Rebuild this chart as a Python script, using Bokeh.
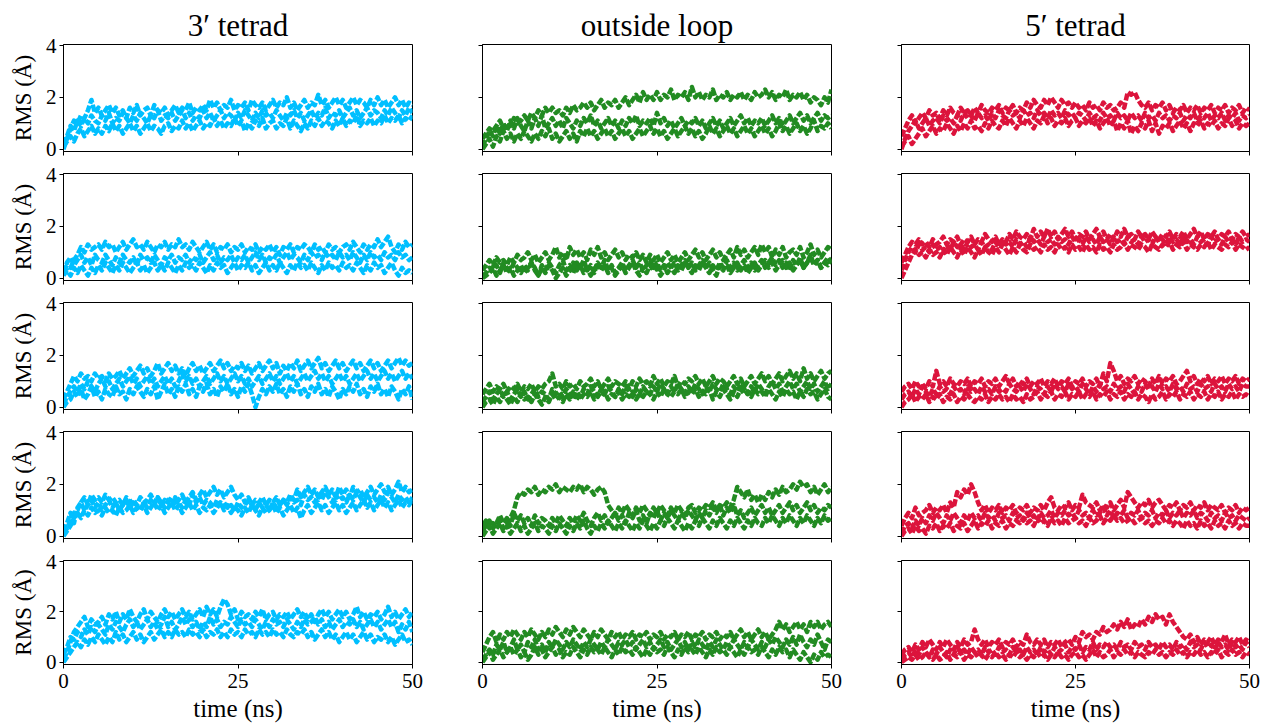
import numpy as np
from bokeh.plotting import figure
from bokeh.layouts import column, row
from bokeh.models import FixedTicker, Range1d
from bokeh.embed import file_html
from bokeh.resources import INLINE

# RMS deviation (Å) per residue, sampled every 0.5 ns over the 50 ns runs.
# Five simulations (rows) x three structural regions (columns).
column_titles = ["3\u2032 tetrad", "outside loop", "5\u2032 tetrad"]
column_colors = ["#00BFFF", "#228B22", "#DC143C"]
x_ticks = [0, 25, 50]
y_ticks = [0, 2, 4]

tet3_run1 = [
    [0.0,0.4,0.8,1.1,1.0,1.3,1.2,1.5,1.9,1.4, 1.6,1.3,1.5,1.7,1.4,1.6,1.3,1.5,1.2,1.6,
     1.4,1.7,1.3,1.5,1.6,1.3,1.7,1.5,1.4,1.6, 1.3,1.5,1.7,1.4,1.6,1.5,1.8,1.4,1.6,1.5,
     1.7,1.5,1.9,1.6,1.8,1.5,1.7,1.6,1.9,1.5, 1.7,1.6,1.8,1.5,1.9,1.7,1.6,1.8,1.5,1.7,
     1.9,1.6,1.8,1.7,2.0,1.6,1.8,1.5,1.7,1.9, 1.6,1.8,1.7,2.1,1.7,1.9,1.6,1.8,2.0,1.7,
     1.9,1.6,1.8,2.0,1.7,1.9,1.8,1.6,1.9,1.7, 2.0,1.7,1.9,1.6,1.8,2.0,1.7,1.9,1.6,1.8, 1.7],
    [0.1,0.3,0.5,0.3,0.6,0.8,0.5,0.7,0.9,0.6, 0.8,0.6,0.9,0.7,1.0,0.7,0.9,0.6,0.8,1.0,
     0.7,0.9,0.6,0.8,1.0,0.7,0.9,0.8,0.6,0.9, 1.0,0.7,0.9,0.8,1.1,0.8,1.0,0.7,0.9,1.1,
     0.8,1.0,0.9,1.2,0.9,1.1,0.8,1.0,0.9,1.2, 0.9,1.1,0.7,1.0,0.8,1.1,0.9,1.2,0.8,1.0,
     1.1,0.8,1.0,0.9,1.2,0.8,1.1,0.9,0.7,1.0, 0.8,1.1,0.9,1.2,0.9,1.1,1.0,0.8,1.1,0.9,
     1.2,0.9,1.1,1.0,1.3,0.9,1.1,1.0,1.2,0.9, 1.1,1.0,1.3,1.0,1.2,1.1,1.3,1.0,1.2,1.1, 1.3],
    [0.2,0.5,0.9,0.7,1.1,0.9,1.2,1.0,1.3,1.1, 1.0,1.3,1.1,1.4,1.0,1.2,1.1,1.4,1.2,1.0,
     1.3,1.1,1.4,1.2,1.0,1.3,1.2,1.5,1.1,1.3, 1.2,1.4,1.1,1.3,1.5,1.2,1.4,1.1,1.3,1.2,
     1.5,1.2,1.4,1.1,1.3,1.5,1.2,1.4,1.3,1.1, 1.4,1.2,1.5,1.3,1.1,1.4,1.2,1.5,1.3,1.4,
     1.2,1.5,1.3,1.1,1.4,1.3,1.5,1.2,1.4,1.1, 1.3,1.5,1.2,1.4,1.3,1.6,1.2,1.4,1.3,1.5,
     1.2,1.4,1.6,1.3,1.5,1.2,1.4,1.6,1.3,1.5, 1.4,1.2,1.5,1.3,1.6,1.4,1.2,1.5,1.3,1.6, 1.4],
]
tet3_run2 = [
    [0.3,0.5,0.4,0.7,0.9,1.2,1.0,1.3,1.1,1.2, 1.3,1.1,1.4,1.2,1.3,1.0,1.2,1.4,1.1,1.3,
     1.5,1.2,1.3,1.1,1.4,1.2,1.0,1.3,1.2,1.4, 1.1,1.3,1.2,1.5,1.2,1.3,1.1,1.4,1.2,1.0,
     1.2,1.4,1.1,1.3,1.0,1.2,1.1,1.3,1.0,1.2, 1.1,1.3,1.0,1.2,1.1,1.3,1.0,1.2,1.1,1.3,
     1.0,1.2,0.9,1.2,1.1,1.3,1.0,1.2,1.1,1.3, 1.2,1.0,1.3,1.1,1.2,1.0,1.3,1.1,1.2,1.0,
     1.2,1.3,1.1,1.4,1.2,1.0,1.3,1.1,1.3,1.2, 1.5,1.2,1.4,1.6,1.2,1.0,1.3,1.1,1.4,1.2, 1.3],
    [0.1,0.3,0.1,0.4,0.2,0.5,0.3,0.1,0.4,0.2, 0.5,0.3,0.6,0.4,0.2,0.5,0.3,0.6,0.4,0.2,
     0.4,0.6,0.3,0.5,0.2,0.4,0.6,0.3,0.5,0.3, 0.6,0.4,0.2,0.5,0.3,0.6,0.4,0.5,0.3,0.6,
     0.4,0.2,0.5,0.3,0.6,0.4,0.5,0.2,0.4,0.6, 0.3,0.5,0.4,0.6,0.3,0.5,0.2,0.4,0.6,0.3,
     0.5,0.3,0.6,0.4,0.2,0.5,0.3,0.6,0.4,0.5, 0.3,0.6,0.4,0.2,0.5,0.3,0.6,0.4,0.5,0.3,
     0.6,0.4,0.5,0.3,0.6,0.4,0.2,0.5,0.3,0.6, 0.4,0.5,0.2,0.4,0.6,0.3,0.1,0.4,0.2,0.3, 0.2],
    [0.2,0.6,0.8,0.5,0.7,0.9,0.6,0.8,0.5,0.9, 0.7,0.6,0.9,0.7,0.5,0.8,0.6,0.9,0.7,0.6,
     0.8,0.5,0.9,0.7,0.8,0.6,0.9,0.7,0.5,0.8, 0.7,0.9,0.6,0.8,0.7,0.9,0.6,0.8,0.7,0.9,
     0.6,0.8,1.0,0.7,0.9,0.6,0.8,0.7,0.9,0.6, 0.8,0.7,0.9,0.6,0.8,1.0,0.7,0.9,0.6,0.8,
     0.7,0.9,0.6,0.8,1.0,0.7,0.9,0.8,0.6,0.9, 0.7,1.0,0.8,0.9,0.7,1.0,0.8,0.9,0.7,1.0,
     0.8,0.9,0.7,1.0,0.8,0.6,0.9,0.7,1.0,0.8, 0.9,0.7,1.0,0.8,0.9,0.7,1.0,0.8,0.9,0.7, 0.8],
]
tet3_run3 = [
    [0.3,0.6,0.9,1.2,1.0,1.3,1.1,1.2,1.0,1.3, 1.1,1.2,1.0,1.3,1.1,1.2,1.4,1.1,1.3,1.5,
     1.2,1.4,1.6,1.3,1.5,1.2,1.4,1.7,1.3,1.5, 1.7,1.4,1.6,1.3,1.5,1.2,1.5,1.7,1.4,1.6,
     1.3,1.5,1.7,1.4,1.6,1.8,1.5,1.7,1.4,1.6, 1.5,1.7,1.4,1.6,1.3,1.5,1.7,1.4,1.6,1.8,
     1.5,1.7,1.3,1.6,1.4,1.7,1.5,1.8,1.4,1.6, 1.8,1.5,1.7,1.9,1.5,1.7,1.4,1.6,1.8,1.5,
     1.7,1.4,1.6,1.8,1.5,1.7,1.4,1.6,1.8,1.5, 1.7,1.4,1.6,1.8,1.5,1.7,1.9,1.6,1.8,1.6, 1.7],
    [0.1,0.4,0.6,0.8,0.6,0.9,0.7,1.0,0.8,0.6, 0.9,1.1,0.8,1.0,0.7,0.9,1.1,0.8,1.0,1.2,
     0.9,1.1,0.8,1.0,1.2,0.9,1.1,0.8,1.0,1.2, 0.9,1.1,0.8,1.0,1.3,1.0,1.2,0.9,1.1,0.8,
     1.0,1.2,0.9,1.1,1.3,1.0,1.2,0.9,1.1,1.3, 1.0,1.2,0.9,1.1,0.8,1.0,1.2,0.9,1.1,1.3,
     1.0,1.2,0.9,1.1,1.3,1.0,1.2,0.9,1.1,1.3, 1.0,1.2,1.4,1.1,1.3,1.0,1.2,0.9,1.1,1.3,
     1.0,1.2,0.9,1.1,1.3,1.0,1.2,1.4,1.1,1.3, 1.0,1.2,1.4,1.1,1.3,1.0,1.2,1.4,1.1,1.3, 1.1],
    [0.0,0.2,0.3,0.6,0.4,0.7,0.3,0.5,0.8,0.4, 0.6,0.3,0.7,0.5,0.4,0.8,0.5,0.6,0.3,0.7,
     0.5,0.8,0.6,0.4,0.7,0.5,0.8,0.3,0.6,0.9, 0.5,0.7,0.4,0.8,0.6,0.9,0.5,0.7,0.4,0.8,
     0.6,0.9,0.5,0.7,0.4,0.8,0.6,0.9,0.5,0.7, 0.4,0.8,0.6,0.9,0.5,0.0,0.4,0.7,0.5,0.8,
     0.6,0.9,0.5,0.7,0.4,0.8,0.6,0.9,0.5,0.7, 0.4,0.8,0.6,0.9,0.5,0.7,0.4,0.8,0.6,0.3,
     0.7,0.5,0.8,0.6,0.9,0.5,0.7,0.4,0.8,0.6, 0.9,0.5,0.7,0.4,0.8,0.6,0.3,0.7,0.5,0.8, 0.3],
]
tet3_run4 = [
    [0.1,0.3,0.6,0.9,1.0,1.3,1.5,1.2,1.6,1.4, 1.5,1.3,1.6,1.4,1.5,1.3,1.4,1.2,1.5,1.3,
     1.4,1.2,1.5,1.3,1.4,1.6,1.3,1.5,1.2,1.4, 1.3,1.5,1.2,1.4,1.6,1.3,1.5,1.7,1.4,1.6,
     1.8,1.5,1.7,1.9,1.6,1.8,1.5,1.7,1.9,1.6, 1.4,1.6,1.3,1.5,1.2,1.4,1.3,1.5,1.2,1.4,
     1.3,1.5,1.2,1.4,1.3,1.6,1.4,1.8,1.5,1.7, 1.9,1.6,1.8,1.5,1.7,1.9,1.6,1.8,1.5,1.9,
     1.6,1.8,1.5,1.9,1.7,1.8,1.5,1.7,1.9,1.6, 1.8,2.0,1.7,1.9,1.6,1.8,2.1,1.7,1.9,1.7, 1.8],
    [0.0,0.2,0.4,0.7,0.9,0.7,1.0,0.8,1.1,0.9, 1.0,0.8,1.1,0.9,1.0,0.8,1.1,0.9,1.0,1.2,
     0.9,1.1,1.0,1.2,0.9,1.1,1.3,1.0,1.2,0.9, 1.1,1.3,1.0,1.2,0.9,1.1,1.3,1.0,1.2,0.9,
     1.1,1.0,1.2,0.9,1.1,1.3,1.0,1.2,0.9,1.1, 1.0,0.8,1.1,0.9,1.2,1.0,0.8,1.1,0.9,1.0,
     1.2,0.9,1.1,0.8,1.0,1.2,0.9,1.1,0.7,1.0, 1.2,0.9,1.1,1.3,1.0,1.2,0.9,1.1,1.3,1.0,
     1.2,0.9,1.1,1.3,1.0,1.2,1.4,1.1,1.3,1.0, 1.2,1.4,1.1,1.3,1.0,1.2,1.4,1.1,1.3,1.2, 1.4],
    [0.2,0.5,0.9,0.5,1.1,1.3,1.0,1.2,1.4,1.1, 1.3,1.0,1.2,1.4,1.1,1.3,1.0,1.2,1.4,1.1,
     1.3,1.2,1.0,1.3,1.1,1.4,1.2,1.5,1.3,1.1, 1.4,1.2,1.5,1.3,1.1,1.4,1.2,1.6,1.3,1.5,
     1.2,1.4,1.3,1.1,1.4,1.2,1.3,1.1,1.2,1.0, 1.3,1.1,1.2,1.4,1.2,1.0,1.3,1.1,1.2,1.0,
     1.3,1.1,1.2,1.4,1.2,1.5,1.3,1.4,1.2,1.6, 1.4,1.5,1.3,1.6,1.4,1.7,1.5,1.3,1.6,1.4,
     1.5,1.3,1.6,1.4,1.7,1.5,1.3,1.6,1.4,1.5, 1.3,1.6,1.4,1.7,1.5,1.3,1.6,1.4,1.5,1.3, 1.5],
]
tet3_run5 = [
    [0.1,0.4,0.8,1.2,1.4,1.6,1.8,1.4,1.7,1.5, 1.6,1.8,1.5,1.9,1.7,2.0,1.6,1.9,1.7,2.1,
     1.8,1.6,1.9,2.1,1.7,2.0,1.8,1.6,1.9,2.1, 1.8,2.0,1.7,1.9,2.1,1.8,2.0,1.7,1.9,2.1,
     1.8,2.2,1.9,2.1,1.8,2.2,2.5,2.3,1.9,2.1, 1.7,2.0,1.8,1.9,1.7,2.0,1.8,2.1,1.7,1.9,
     2.0,1.7,1.9,1.8,2.0,1.7,1.9,2.1,1.8,2.0, 1.7,1.9,1.6,1.9,2.1,1.8,2.0,1.7,1.9,2.1,
     1.8,2.0,1.7,1.9,2.2,1.8,2.0,1.7,1.9,1.8, 2.0,1.7,1.9,2.2,1.8,2.0,1.7,1.9,2.1,1.8, 2.0],
    [0.0,0.2,0.4,0.6,0.8,0.6,0.9,0.7,1.0,0.8, 1.1,0.9,0.7,1.0,0.8,1.2,0.9,1.1,0.8,1.0,
     1.2,0.9,1.1,0.8,1.0,1.2,0.9,1.1,1.3,1.0, 1.2,1.0,1.3,1.1,1.2,1.0,1.3,1.1,1.2,1.0,
     1.3,1.0,1.2,1.1,1.3,1.0,1.2,1.0,1.3,1.1, 1.2,1.0,1.3,1.1,1.2,1.0,1.3,1.1,1.2,1.0,
     1.3,1.1,1.2,1.0,1.3,1.1,1.0,1.2,1.1,1.3, 1.0,1.2,0.9,1.1,1.3,1.0,1.2,0.9,1.1,0.8,
     1.0,1.2,0.9,1.1,0.8,1.0,1.2,0.9,1.1,0.8, 1.0,0.9,1.1,0.8,1.0,0.7,0.9,1.1,0.8,0.9, 0.7],
    [0.3,0.6,1.0,0.9,1.2,1.0,1.3,1.1,1.4,1.2, 1.5,1.3,1.1,1.5,1.3,1.6,1.4,1.2,1.5,1.7,
     1.4,1.6,1.3,1.5,1.7,1.4,1.6,1.3,1.5,1.8, 1.4,1.6,1.3,1.5,1.8,1.5,1.7,1.4,1.6,1.3,
     1.6,1.4,1.8,1.5,1.7,1.4,1.6,1.5,1.8,1.6, 1.4,1.7,1.5,1.6,1.4,1.7,1.5,1.3,1.6,1.4,
     1.7,1.5,1.6,1.4,1.7,1.5,1.3,1.6,1.4,1.7, 1.5,1.6,1.8,1.5,1.7,1.4,1.6,1.3,1.5,1.7,
     1.4,1.6,1.5,1.7,1.4,1.6,1.3,1.5,1.7,1.4, 1.6,1.3,1.5,1.7,1.4,1.6,1.2,1.5,1.3,1.6, 1.2],
]

loop_run1 = [
    [0.4,0.6,0.8,0.7,0.9,1.1,0.8,1.0,0.9,1.2, 1.0,1.1,1.3,1.1,1.4,1.2,1.5,1.3,1.6,1.4,
     1.6,1.4,1.5,1.3,1.6,1.4,1.7,1.5,1.6,1.8, 1.6,1.8,1.5,1.7,1.9,1.6,1.8,1.7,1.9,1.6,
     1.8,2.0,1.7,1.9,2.1,1.8,2.2,1.9,2.1,1.9, 2.2,1.9,2.1,2.0,2.3,1.9,2.1,2.0,2.2,1.9,
     2.4,2.0,2.2,1.9,2.1,2.0,2.3,1.9,2.1,2.0, 2.2,1.9,2.1,2.0,2.2,1.9,2.1,1.9,2.2,2.0,
     2.1,2.3,2.0,2.2,1.9,2.1,2.0,2.3,1.9,2.1, 2.0,2.2,1.9,2.1,1.8,2.0,1.9,1.7,2.0,1.8, 2.3],
    [0.1,0.4,0.7,0.5,0.9,0.6,1.0,0.7,1.1,0.8, 1.2,0.9,0.7,1.1,0.8,1.2,0.9,1.3,0.8,1.0,
     1.2,0.9,1.1,0.8,1.2,1.0,0.8,1.1,0.9,1.2, 1.0,1.3,0.9,1.1,0.8,1.0,1.2,0.9,1.1,0.8,
     1.1,0.9,1.2,1.0,1.3,0.9,1.1,1.0,1.2,0.9, 1.4,1.0,1.2,0.9,1.1,0.8,1.0,1.2,0.9,1.1,
     1.0,1.2,0.9,1.1,0.8,1.0,1.2,0.9,1.1,0.8, 1.0,1.2,0.9,1.1,1.3,1.0,1.2,0.9,1.1,1.0,
     1.2,0.9,1.1,1.3,1.0,1.2,0.9,1.1,1.3,1.0, 1.2,1.4,1.1,1.3,1.0,1.2,1.4,1.1,1.3,1.2, 1.3],
    [0.0,0.2,0.4,0.1,0.5,0.3,0.7,0.4,0.6,0.3, 0.6,0.4,0.7,0.5,0.3,0.6,0.4,0.7,0.5,0.8,
     0.4,0.6,0.3,0.5,0.7,0.4,0.6,0.3,0.7,0.5, 0.8,0.5,0.7,0.4,0.6,0.8,0.5,0.7,0.4,0.6,
     0.8,0.5,0.7,0.4,0.6,0.8,0.5,0.7,0.9,0.6, 0.8,0.5,0.7,0.4,0.6,0.8,0.5,0.7,0.9,0.6,
     0.8,0.5,0.7,0.4,0.6,0.9,0.6,0.8,0.5,0.7, 0.9,0.6,0.8,0.5,0.7,0.9,0.6,0.8,0.5,0.7,
     0.9,0.6,0.8,0.5,0.7,1.0,0.7,0.9,0.6,0.8, 1.0,0.7,0.9,0.6,0.8,1.1,0.7,0.9,0.8,1.0, 0.8],
]
loop_run2 = [
    [0.3,0.5,0.7,0.5,0.8,0.6,0.7,0.5,0.8,0.6, 0.9,0.7,0.8,1.0,0.7,0.9,0.6,0.8,1.0,0.7,
     0.9,1.2,0.8,1.0,0.7,1.2,0.9,1.1,0.8,1.0, 0.7,1.1,0.9,1.2,0.8,1.0,0.7,0.9,1.1,0.8,
     1.0,0.7,0.9,0.8,1.0,0.7,0.9,0.6,0.9,0.7, 0.9,0.6,0.8,1.0,0.7,0.9,0.6,0.8,1.0,0.7,
     0.9,1.1,0.8,1.0,0.7,0.9,1.1,0.8,1.0,0.7, 0.9,1.1,0.8,1.2,0.9,1.1,0.8,1.0,1.2,0.9,
     1.3,1.0,1.2,0.8,1.1,0.9,1.2,0.8,1.0,1.1, 0.9,1.2,0.8,1.0,1.3,0.9,1.1,0.8,1.0,1.2, 1.1],
    [0.1,0.2,0.4,0.3,0.5,0.2,0.6,0.4,0.3,0.6, 0.4,0.2,0.5,0.3,0.6,0.4,0.1,0.5,0.3,0.6,
     0.4,0.2,0.5,0.7,0.3,0.5,0.2,0.6,0.4,0.7, 0.3,0.5,0.2,0.6,0.4,0.7,0.3,0.5,0.2,0.4,
     0.6,0.3,0.5,0.7,0.4,0.6,0.3,0.5,0.7,0.4, 0.6,0.3,0.5,0.2,0.4,0.6,0.3,0.5,0.7,0.4,
     0.6,0.3,0.5,0.7,0.4,0.6,0.3,0.1,0.5,0.3, 0.7,0.4,0.6,0.3,0.5,0.7,0.4,0.6,0.3,0.5,
     0.7,0.4,0.6,0.8,0.5,0.7,0.4,0.6,0.3,0.7, 0.5,0.8,0.4,0.6,0.9,0.5,0.7,0.4,0.6,0.8, 0.6],
    [0.0,0.1,0.2,0.4,0.1,0.3,0.5,0.2,0.4,0.1, 0.3,0.5,0.2,0.4,0.6,0.3,0.1,0.4,0.2,0.5,
     0.3,0.0,0.2,0.4,0.1,0.3,0.6,0.3,0.5,0.2, 0.4,0.1,0.3,0.6,0.3,0.5,0.2,0.4,0.1,0.3,
     0.5,0.2,0.4,0.6,0.3,0.1,0.4,0.2,0.5,0.3, 0.4,0.1,0.3,0.6,0.4,0.2,0.5,0.3,0.6,0.4,
     0.2,0.5,0.3,0.6,0.4,0.2,0.5,0.3,0.6,0.4, 0.5,0.2,0.4,0.6,0.3,0.5,0.2,0.4,0.6,0.3,
     0.5,0.7,0.4,0.6,0.3,0.5,0.7,0.4,0.6,0.3, 0.5,0.7,0.4,0.6,0.8,0.5,0.7,0.4,0.6,0.5, 0.7],
]
loop_run3 = [
    [0.5,0.7,0.9,0.6,0.8,0.7,0.9,0.6,0.8,0.7, 0.9,0.6,0.8,0.7,0.9,0.6,0.8,0.7,0.9,1.0,
     1.3,0.8,0.9,0.7,1.0,0.8,0.9,0.7,1.0,0.8, 0.9,1.1,0.8,1.0,0.7,0.9,1.1,0.8,1.0,0.9,
     0.8,1.0,0.7,1.0,0.8,1.1,0.9,1.0,0.8,1.2, 0.9,1.1,0.8,1.0,0.9,1.2,0.8,1.0,0.9,1.1,
     1.0,1.2,0.9,1.1,0.8,1.0,1.2,0.9,1.1,1.0, 0.8,1.0,1.2,0.9,1.1,0.8,1.0,1.2,0.9,1.1,
     1.3,1.0,1.2,0.9,1.1,1.3,1.0,1.2,1.4,1.1, 1.3,1.0,1.5,1.1,1.3,1.0,1.2,1.4,1.1,1.3, 1.4],
    [0.2,0.4,0.6,0.3,0.5,0.7,0.4,0.6,0.3,0.5, 0.7,0.4,0.6,0.3,0.5,0.7,0.4,0.6,0.5,0.3,
     0.7,0.5,0.6,0.4,0.7,0.5,0.3,0.6,0.4,0.7, 0.5,0.8,0.6,0.4,0.7,0.5,0.8,0.6,0.4,0.7,
     0.5,0.8,0.6,0.4,0.7,0.5,0.8,0.6,0.5,0.8, 0.6,0.9,0.7,0.5,0.8,0.6,0.9,0.7,0.5,0.8,
     0.6,0.9,0.7,0.5,0.8,0.6,0.9,0.7,0.6,0.9, 0.7,0.5,0.8,0.6,0.9,0.7,0.5,0.8,0.6,0.9,
     0.7,0.5,0.8,1.0,0.7,0.9,0.6,0.8,1.0,0.7, 0.9,0.6,0.8,1.0,0.7,0.9,0.6,0.8,1.0,0.7, 0.9],
    [0.0,0.2,0.3,0.1,0.4,0.2,0.5,0.3,0.1,0.4, 0.2,0.5,0.3,0.4,0.2,0.5,0.3,0.1,0.4,0.2,
     0.5,0.3,0.4,0.2,0.5,0.3,0.6,0.4,0.3,0.5, 0.4,0.6,0.3,0.5,0.4,0.6,0.3,0.5,0.4,0.6,
     0.3,0.5,0.4,0.6,0.3,0.5,0.4,0.6,0.5,0.3, 0.6,0.4,0.7,0.5,0.4,0.6,0.5,0.7,0.4,0.6,
     0.5,0.7,0.4,0.6,0.5,0.7,0.3,0.6,0.4,0.7, 0.5,0.3,0.6,0.4,0.7,0.5,0.6,0.4,0.7,0.5,
     0.6,0.4,0.7,0.5,0.3,0.6,0.4,0.7,0.5,0.6, 0.3,0.6,0.4,0.7,0.5,0.6,0.3,0.5,0.7,0.4, 0.3],
]
loop_run4 = [
    [0.4,0.6,0.3,0.5,0.4,0.6,0.3,0.5,0.7,1.0, 1.5,1.7,1.6,1.8,1.7,1.9,1.6,1.8,1.7,1.9,
     1.8,2.0,1.7,1.9,1.8,1.7,1.9,1.8,2.0,1.7, 1.9,1.8,1.6,1.8,1.9,1.7,1.2,1.0,0.8,1.1,
     0.9,1.2,1.0,0.8,1.1,0.9,1.2,1.0,0.8,1.1, 0.9,1.2,1.0,0.8,1.1,0.9,1.2,1.0,0.8,1.1,
     1.2,0.9,1.1,1.0,1.2,1.1,1.3,1.0,1.2,1.1, 1.3,1.1,1.4,1.9,1.7,1.5,1.8,1.4,1.6,1.3,
     1.6,1.4,1.7,1.5,1.8,1.6,1.9,1.7,1.8,2.0, 1.8,2.1,1.9,2.0,1.7,1.9,1.6,1.8,2.0,1.7, 1.9],
    [0.2,0.4,0.6,0.3,0.5,0.8,0.5,0.7,0.4,0.9, 0.6,0.8,0.5,0.7,0.4,0.8,0.5,0.7,0.6,0.4,
     0.7,0.5,0.8,0.6,0.4,0.7,0.5,0.8,0.6,0.9, 0.6,0.4,0.7,0.9,0.6,0.8,0.5,0.7,0.9,0.6,
     0.8,0.5,0.9,0.7,1.0,0.6,0.8,0.5,0.9,0.7, 1.0,0.6,0.9,0.7,1.0,0.8,0.6,0.9,0.7,1.0,
     0.8,0.6,0.9,0.7,1.0,0.8,1.1,0.9,1.2,0.8, 1.1,0.9,1.2,0.8,1.0,0.7,0.9,1.1,0.8,1.0,
     1.2,0.9,1.1,0.8,1.0,1.2,0.9,1.1,1.3,1.0, 1.2,0.9,1.1,1.3,1.0,1.2,0.9,1.1,1.0,1.2, 1.1],
    [0.0,0.2,0.4,0.1,0.3,0.5,0.2,0.4,0.1,0.3, 0.5,0.2,0.4,0.1,0.3,0.5,0.2,0.4,0.3,0.1,
     0.4,0.2,0.5,0.3,0.1,0.4,0.2,0.5,0.3,0.6, 0.3,0.1,0.4,0.2,0.5,0.3,0.6,0.4,0.2,0.5,
     0.3,0.6,0.4,0.2,0.5,0.3,0.6,0.4,0.2,0.5, 0.3,0.6,0.4,0.7,0.5,0.3,0.6,0.4,0.2,0.5,
     0.3,0.6,0.4,0.7,0.5,0.3,0.6,0.4,0.7,0.5, 0.3,0.6,0.4,0.7,0.5,0.3,0.6,0.4,0.7,0.5,
     0.4,0.7,0.5,0.8,0.6,0.4,0.7,0.5,0.8,0.6, 0.4,0.7,0.5,0.8,0.6,0.4,0.7,0.5,0.8,0.6, 0.7],
]
loop_run5 = [
    [0.4,0.7,1.0,1.2,0.8,1.1,0.9,1.2,1.0,1.3, 1.1,0.9,1.2,1.0,1.3,1.1,0.9,1.2,1.0,1.3,
     1.1,1.4,1.2,1.0,1.3,1.1,1.4,1.2,1.0,1.3, 1.1,0.9,1.2,1.0,1.3,1.1,0.9,1.2,1.0,1.2,
     0.9,1.1,1.0,1.2,0.9,1.1,1.0,1.2,0.9,1.1, 1.0,1.2,0.9,1.1,1.0,1.2,0.9,1.1,1.0,1.2,
     0.9,1.1,1.0,1.2,0.9,1.1,1.0,1.2,0.9,1.1, 1.0,1.2,0.9,1.1,1.3,1.0,1.2,0.9,1.1,1.3,
     1.0,1.2,0.9,1.1,1.3,1.6,1.3,1.5,1.2,1.4, 1.6,1.3,1.5,1.2,1.6,1.4,1.6,1.3,1.5,1.6, 1.4],
    [0.1,0.3,0.5,0.3,0.7,0.5,0.8,0.4,0.6,0.9, 0.5,0.7,0.4,0.8,0.6,0.9,0.5,0.7,0.4,0.8,
     0.6,0.9,0.7,0.5,0.8,0.6,0.9,0.7,0.5,0.8, 0.6,0.9,0.7,0.5,0.8,0.6,0.9,0.7,0.5,0.8,
     0.7,0.9,0.6,0.8,0.5,0.7,0.9,0.6,0.8,0.5, 0.7,0.9,0.6,0.8,0.5,0.7,0.9,0.6,0.8,0.5,
     0.8,0.6,0.9,0.7,0.5,0.8,0.6,0.9,0.7,0.5, 0.8,0.6,0.9,0.7,0.5,0.8,0.6,0.9,0.7,0.5,
     0.8,0.6,0.9,0.7,1.0,0.8,0.6,0.9,0.7,1.0, 0.7,1.1,0.8,0.6,0.9,0.7,1.1,0.8,0.5,0.9, 0.8],
    [0.0,0.2,0.4,0.1,0.3,0.5,0.2,0.4,0.6,0.3, 0.5,0.2,0.4,0.1,0.3,0.6,0.3,0.5,0.2,0.4,
     0.6,0.3,0.5,0.2,0.4,0.3,0.6,0.4,0.2,0.5, 0.3,0.6,0.4,0.5,0.3,0.6,0.4,0.2,0.5,0.3,
     0.6,0.4,0.5,0.3,0.6,0.4,0.2,0.5,0.3,0.6, 0.4,0.5,0.3,0.6,0.4,0.2,0.5,0.3,0.6,0.4,
     0.5,0.3,0.6,0.4,0.2,0.5,0.3,0.6,0.4,0.5, 0.3,0.6,0.4,0.2,0.5,0.3,0.6,0.4,0.5,0.3,
     0.6,0.4,0.2,0.5,0.3,0.6,0.4,0.5,0.2,0.5, 0.3,0.1,0.4,0.2,0.0,0.3,0.1,0.4,0.2,0.3, 0.2],
]

tet5_run1 = [
    [0.5,0.8,1.1,1.3,1.0,1.2,1.4,1.2,1.5,1.3, 1.4,1.2,1.5,1.3,1.6,1.4,1.3,1.6,1.4,1.5,
     1.3,1.6,1.4,1.7,1.5,1.4,1.6,1.5,1.7,1.4, 1.6,1.5,1.7,1.4,1.6,1.5,1.8,1.6,1.9,1.7,
     1.6,1.9,1.7,2.0,1.8,1.6,1.9,1.7,1.8,1.6, 1.8,1.6,1.7,1.5,1.8,1.6,1.7,1.5,1.8,1.6,
     1.7,1.5,1.6,1.8,1.6,2.2,2.1,2.2,1.9,1.7, 1.6,1.8,1.5,1.7,1.6,1.8,1.5,1.7,1.4,1.6,
     1.5,1.7,1.4,1.6,1.5,1.7,1.4,1.6,1.5,1.7, 1.4,1.6,1.5,1.7,1.4,1.6,1.5,1.7,1.4,1.6, 1.5],
    [0.1,0.3,0.5,0.2,0.4,0.6,0.8,0.5,0.7,0.9, 0.6,0.8,0.7,1.0,0.8,0.6,0.9,0.7,1.0,0.8,
     1.1,0.8,0.9,0.7,1.0,0.8,1.1,0.9,0.8,1.1, 0.9,1.2,1.0,0.8,1.1,0.9,1.2,1.0,0.8,1.1,
     1.0,1.3,1.0,1.2,0.9,1.1,1.0,1.2,0.9,1.1, 1.2,0.9,1.1,1.0,1.2,0.9,1.1,0.8,1.0,1.2,
     0.9,1.1,0.7,1.0,0.8,1.1,0.6,0.9,0.7,1.0, 0.8,1.1,0.7,1.0,0.6,0.9,0.8,1.0,0.7,0.9,
     1.1,0.8,1.0,0.7,1.0,0.9,1.1,0.8,1.0,0.9, 1.1,0.8,1.0,0.9,1.2,0.9,1.1,0.8,1.0,0.9, 1.0],
    [0.0,0.4,0.7,0.9,1.1,0.8,1.0,1.2,0.9,1.1, 1.2,1.0,1.3,1.1,1.2,1.0,1.3,1.1,1.4,1.2,
     1.3,1.1,1.4,1.2,1.3,1.1,1.4,1.2,1.5,1.3, 1.2,1.5,1.3,1.4,1.2,1.5,1.3,1.4,1.2,1.5,
     1.3,1.4,1.2,1.5,1.3,1.4,1.2,1.5,1.3,1.4, 1.2,1.4,1.3,1.1,1.4,1.2,1.3,1.1,1.4,1.2,
     1.3,1.1,1.4,1.2,1.3,1.1,1.4,1.2,1.3,1.1, 1.4,1.2,1.3,1.1,1.4,1.2,1.3,1.1,1.3,1.2,
     1.4,1.1,1.3,1.2,1.4,1.1,1.3,1.2,1.4,1.1, 1.3,1.2,1.4,1.1,1.3,1.2,1.4,1.1,1.3,1.2, 1.3],
]
tet5_run2 = [
    [0.6,0.9,1.2,1.4,1.3,1.5,1.3,1.4,1.2,1.5, 1.3,1.4,1.6,1.3,1.5,1.4,1.6,1.3,1.5,1.4,
     1.6,1.3,1.5,1.4,1.7,1.5,1.4,1.6,1.3,1.5, 1.4,1.7,1.5,1.8,1.6,1.5,1.7,1.5,1.9,1.6,
     1.8,1.6,1.9,1.6,1.8,1.5,1.7,1.9,1.6,1.8, 1.5,1.7,1.6,1.8,1.5,1.7,1.9,1.6,1.8,1.5,
     1.7,1.5,1.8,1.6,1.9,1.6,1.7,1.5,1.8,1.6, 1.7,1.5,1.8,1.6,1.5,1.7,1.6,1.8,1.5,1.7,
     1.6,1.8,1.5,1.7,1.9,1.6,1.8,1.5,1.7,1.6, 1.8,1.5,1.7,1.6,1.8,1.5,1.7,1.6,1.8,1.6, 1.7],
    [0.0,0.3,0.6,0.9,1.1,0.9,1.0,0.8,1.1,0.9, 1.0,0.8,1.1,0.9,1.2,1.0,0.8,1.1,0.9,1.2,
     1.0,0.8,1.1,0.9,1.2,1.0,0.9,1.2,1.0,1.3, 1.1,0.9,1.2,1.0,1.3,1.1,1.0,1.3,1.1,1.2,
     1.0,1.3,1.1,1.2,1.0,1.3,1.1,1.2,1.0,1.3, 1.1,1.2,1.0,1.3,1.1,1.2,1.0,1.3,1.1,1.2,
     1.0,1.3,1.1,1.2,1.4,1.1,1.3,1.2,1.1,1.3, 1.2,1.0,1.3,1.2,1.1,1.3,1.2,1.4,1.1,1.3,
     1.2,1.4,1.1,1.3,1.2,1.1,1.3,1.2,1.4,1.1, 1.3,1.2,1.1,1.3,1.2,1.4,1.1,1.3,1.2,1.1, 1.2],
    [0.3,0.7,1.0,1.2,1.0,1.3,1.1,1.2,1.0,1.3, 1.1,1.2,1.0,1.3,1.1,1.4,1.2,1.3,1.1,1.4,
     1.2,1.3,1.1,1.4,1.2,1.3,1.1,1.4,1.2,1.5, 1.3,1.4,1.2,1.5,1.3,1.4,1.2,1.6,1.4,1.5,
     1.3,1.6,1.4,1.5,1.3,1.6,1.4,1.5,1.3,1.6, 1.4,1.5,1.3,1.6,1.4,1.5,1.3,1.6,1.4,1.5,
     1.3,1.6,1.4,1.5,1.3,1.6,1.4,1.5,1.3,1.6, 1.4,1.5,1.3,1.6,1.4,1.5,1.3,1.6,1.4,1.5,
     1.3,1.6,1.4,1.5,1.3,1.6,1.4,1.5,1.3,1.6, 1.4,1.5,1.3,1.6,1.4,1.5,1.3,1.6,1.4,1.5, 1.4],
]
tet5_run3 = [
    [0.6,0.8,0.9,0.7,1.0,0.8,0.9,0.7,1.0,0.8, 1.4,0.9,1.0,0.8,1.1,0.9,0.8,1.0,0.9,1.1,
     0.8,1.0,0.9,1.1,0.8,1.0,0.9,1.1,0.8,1.0, 1.2,0.9,1.1,0.8,1.0,0.9,1.1,0.8,1.0,0.9,
     1.1,0.8,1.0,0.9,1.1,0.8,1.0,0.9,1.1,0.8, 1.0,0.9,1.1,0.8,1.0,0.9,1.1,0.8,1.3,1.0,
     1.7,1.4,1.0,1.2,0.9,1.1,1.0,1.2,0.9,1.1, 1.0,0.8,1.1,0.9,1.2,0.9,1.1,1.0,1.2,0.9,
     1.0,1.2,1.4,1.0,1.2,0.9,1.1,1.0,1.2,0.9, 1.1,1.0,1.2,0.9,1.1,1.0,1.2,0.9,1.1,1.0, 1.1],
    [0.3,0.5,0.6,0.4,0.7,0.5,0.8,0.6,0.4,0.7, 0.5,0.8,0.6,0.7,0.5,0.8,0.6,0.7,0.5,0.8,
     0.6,0.7,0.5,0.8,0.6,0.7,0.5,0.8,0.6,0.7, 0.6,0.9,0.7,0.6,0.8,0.6,0.9,0.7,0.5,0.8,
     0.7,0.5,0.8,0.6,0.9,0.7,0.8,0.6,0.9,0.7, 0.8,0.6,0.9,0.7,0.5,0.8,0.6,0.9,0.7,0.8,
     0.6,0.9,0.7,0.8,0.6,0.9,0.7,0.5,0.8,0.6, 0.9,0.7,0.8,0.6,0.9,0.7,0.8,0.6,0.9,0.7,
     0.8,0.6,0.9,0.7,0.8,0.6,0.9,0.7,0.8,0.6, 0.9,0.7,0.8,0.6,0.9,0.7,0.8,0.6,0.9,0.8, 0.8],
    [0.0,0.2,0.3,0.5,0.2,0.4,0.3,0.5,0.2,0.4, 0.3,0.5,0.2,0.4,0.3,0.5,0.2,0.4,0.3,0.5,
     0.3,0.2,0.4,0.3,0.5,0.2,0.4,0.3,0.5,0.3, 0.4,0.2,0.5,0.3,0.4,0.2,0.5,0.3,0.4,0.6,
     0.3,0.5,0.4,0.6,0.3,0.5,0.4,0.6,0.3,0.5, 0.4,0.6,0.3,0.5,0.4,0.6,0.3,0.5,0.4,0.6,
     0.3,0.5,0.4,0.6,0.3,0.5,0.4,0.6,0.3,0.5, 0.4,0.2,0.5,0.3,0.4,0.6,0.3,0.5,0.4,0.6,
     0.3,0.5,0.4,0.6,0.3,0.5,0.4,0.6,0.3,0.5, 0.4,0.6,0.3,0.5,0.4,0.6,0.3,0.5,0.4,0.5, 0.4],
]
tet5_run4 = [
    [0.4,0.7,0.9,0.7,1.1,0.8,0.9,1.0,1.2,0.9, 1.1,1.0,1.2,0.9,1.3,1.1,1.7,1.5,1.8,1.6,
     2.0,1.7,1.3,1.0,1.2,0.9,1.1,1.0,1.2,0.9, 1.1,1.0,1.2,0.9,1.1,1.0,1.2,0.9,1.1,1.0,
     1.2,1.0,1.3,1.5,1.1,1.0,1.2,1.1,1.3,1.0, 1.2,1.1,1.6,1.3,1.2,1.1,1.3,1.0,1.2,1.1,
     1.3,1.0,1.2,1.4,1.1,1.7,1.5,1.3,1.1,1.3, 1.2,1.4,1.1,1.3,1.4,1.2,1.0,1.2,1.1,1.3,
     1.0,1.2,1.1,1.3,1.0,1.2,1.1,1.3,1.0,1.2, 1.1,1.0,1.2,0.9,1.1,1.0,1.2,0.9,1.1,1.0, 1.1],
    [0.1,0.4,0.5,0.3,0.6,0.4,0.7,0.5,0.8,0.6, 0.9,0.7,0.5,0.8,0.6,0.9,0.7,0.5,0.8,0.6,
     0.9,0.7,0.8,0.6,0.9,0.7,0.8,0.6,0.9,0.7, 0.8,0.6,0.9,0.7,0.8,0.6,0.9,0.7,0.8,0.6,
     0.9,0.7,0.8,1.0,0.7,0.9,0.8,1.0,0.8,0.9, 0.7,1.0,0.8,0.9,0.7,1.0,0.8,0.9,1.1,0.8,
     1.0,0.7,0.9,0.8,1.0,0.7,0.9,0.8,1.0,0.7, 0.9,0.8,1.0,0.7,0.9,0.8,1.0,0.7,0.9,0.8,
     1.0,0.7,0.9,0.8,1.0,0.7,0.9,0.8,0.6,0.9, 0.7,0.8,0.6,0.9,0.7,0.8,0.6,0.8,0.7,0.6, 0.7],
    [0.0,0.2,0.3,0.1,0.4,0.2,0.3,0.1,0.4,0.3, 0.5,0.2,0.4,0.3,0.5,0.2,0.4,0.3,0.5,0.2,
     0.4,0.6,0.3,0.5,0.4,0.6,0.3,0.5,0.4,0.6, 0.3,0.5,0.4,0.6,0.5,0.7,0.5,0.6,0.4,0.7,
     0.5,0.6,0.4,0.7,0.5,0.6,0.4,0.7,0.5,0.6, 0.7,0.5,0.6,0.4,0.7,0.5,0.6,0.8,0.5,0.7,
     0.6,0.8,0.6,0.7,0.5,0.6,0.7,0.5,0.6,0.7, 0.5,0.6,0.4,0.6,0.5,0.7,0.5,0.6,0.4,0.6,
     0.5,0.3,0.6,0.4,0.5,0.3,0.6,0.4,0.5,0.3, 0.6,0.4,0.5,0.3,0.6,0.4,0.5,0.3,0.5,0.4, 0.4],
]
tet5_run5 = [
    [0.3,0.5,0.6,0.4,0.7,0.5,0.8,0.6,0.9,0.7, 0.5,0.8,0.6,0.9,0.7,0.5,0.8,0.6,0.9,0.7,
     0.8,1.3,0.9,0.7,0.9,0.6,0.8,0.7,0.9,0.6, 0.8,0.7,0.9,0.6,0.8,0.7,1.1,0.8,0.7,0.9,
     0.7,0.9,0.6,0.8,0.7,0.9,0.6,0.8,0.9,0.7, 1.0,0.8,1.2,1.0,1.1,0.9,1.2,1.1,1.4,1.2,
     1.3,1.5,1.3,1.6,1.4,1.7,1.3,1.5,1.4,1.7, 1.5,1.8,1.6,1.9,1.7,1.8,1.5,1.9,1.6,1.4,
     1.2,1.0,0.9,1.1,0.8,1.0,0.7,0.9,0.8,1.0, 0.7,0.9,0.8,1.1,0.7,0.9,0.8,1.0,0.7,0.9, 0.8],
    [0.1,0.3,0.4,0.2,0.5,0.3,0.6,0.4,0.2,0.5, 0.3,0.6,0.4,0.2,0.5,0.3,0.6,0.4,0.5,0.3,
     0.6,0.4,0.5,0.3,0.6,0.4,0.5,0.3,0.6,0.4, 0.5,0.3,0.6,0.4,0.5,0.3,0.6,0.4,0.5,0.3,
     0.6,0.4,0.5,0.3,0.6,0.4,0.5,0.7,0.4,0.6, 0.5,0.7,0.4,0.6,0.5,0.8,0.5,0.7,0.6,0.8,
     0.6,0.7,0.5,0.8,0.6,0.7,0.5,0.8,0.6,0.7, 0.5,0.8,0.6,0.7,0.5,0.8,0.6,0.7,0.5,0.8,
     0.6,0.7,0.5,0.8,0.6,0.7,0.5,0.8,0.6,0.7, 0.5,0.8,0.6,0.7,0.5,0.8,0.6,0.7,0.5,0.8, 0.6],
    [0.0,0.1,0.2,0.1,0.3,0.1,0.2,0.4,0.2,0.1, 0.3,0.1,0.2,0.4,0.1,0.3,0.2,0.4,0.1,0.3,
     0.2,0.4,0.2,0.3,0.1,0.3,0.2,0.4,0.2,0.3, 0.1,0.3,0.2,0.4,0.2,0.3,0.1,0.3,0.2,0.4,
     0.2,0.3,0.1,0.3,0.2,0.4,0.2,0.3,0.1,0.3, 0.4,0.2,0.3,0.1,0.3,0.5,0.2,0.4,0.2,0.3,
     0.5,0.2,0.4,0.3,0.5,0.3,0.4,0.2,0.4,0.3, 0.2,0.4,0.3,0.5,0.3,0.4,0.2,0.4,0.3,0.5,
     0.3,0.4,0.2,0.4,0.3,0.5,0.3,0.4,0.2,0.4, 0.3,0.5,0.2,0.4,0.3,0.5,0.3,0.4,0.2,0.4, 0.3],
]

panels = [
    [tet3_run1, loop_run1, tet5_run1],
    [tet3_run2, loop_run2, tet5_run2],
    [tet3_run3, loop_run3, tet5_run3],
    [tet3_run4, loop_run4, tet5_run4],
    [tet3_run5, loop_run5, tet5_run5],
]

SERIF = "'Liberation Serif', 'DejaVu Serif', serif"
T_END = 50.0

# canvas geometry (pixels): per-column widths and borders, per-row heights
col_w = [447, 419, 396]
col_bl = [63, 35, 35]
col_br = [35, 35, 13]
row_h = [162, 129, 129, 129, 175]
row_bt = [44, 11, 11, 11, 11]
row_bb = [11, 11, 11, 11, 57]

rows = []
n_rows = len(panels)
for r in range(n_rows):
    figs = []
    for c in range(3):
        first_col = c == 0
        last_row = r == n_rows - 1
        p = figure(
            width=col_w[c], height=row_h[r],
            x_range=Range1d(0, T_END), y_range=Range1d(-0.09, 4.04),
            output_backend="svg", toolbar_location=None,
            min_border_left=col_bl[c], min_border_right=col_br[c],
            min_border_top=row_bt[r], min_border_bottom=row_bb[r],
            background_fill_color="white", border_fill_color="white",
        )
        if r == 0:
            p.title.text = column_titles[c]
            p.title.align = "center"
            p.title.text_font = SERIF
            p.title.text_font_size = "31px"
            p.title.text_font_style = "normal"
            p.title.text_color = "black"
            p.title.standoff = 4
        for trace in panels[r][c]:
            t = np.linspace(0, T_END, len(trace))
            p.line(t, trace, line_color=column_colors[c], line_width=4.5,
                   line_dash="7 2", line_join="round")

        p.xgrid.visible = False
        p.ygrid.visible = False
        p.outline_line_color = "black"
        p.outline_line_alpha = 1.0
        p.outline_line_width = 1

        for ax, ticks in ((p.xaxis[0], x_ticks), (p.yaxis[0], y_ticks)):
            ax.ticker = FixedTicker(ticks=ticks)
            ax.axis_line_color = "black"
            ax.major_tick_line_color = "black"
            ax.major_tick_out = 4
            ax.major_tick_in = 0
            ax.minor_tick_line_color = None
            ax.major_label_text_font = SERIF
            ax.major_label_text_font_size = "21px"
            ax.major_label_text_color = "black"
            ax.axis_label_text_font = SERIF
            ax.axis_label_text_font_style = "normal"
            ax.axis_label_text_color = "black"

        p.yaxis.major_label_standoff = 3
        p.xaxis.major_label_standoff = 5
        if first_col:
            p.yaxis.axis_label = "RMS (\u00c5)"
            p.yaxis.axis_label_text_font_size = "23px"
            p.yaxis.axis_label_standoff = 7
        else:
            p.yaxis.major_label_overrides = {k: "" for k in y_ticks}
        if last_row:
            p.xaxis.axis_label = "time (ns)"
            p.xaxis.axis_label_text_font_size = "25px"
            p.xaxis.axis_label_standoff = 4
        else:
            p.xaxis.major_label_overrides = {k: "" for k in x_ticks}
        figs.append(p)
    rows.append(row(*figs, spacing=0))

layout = column(*rows, spacing=0)
open("out.html", "w").write(file_html(layout, INLINE))
